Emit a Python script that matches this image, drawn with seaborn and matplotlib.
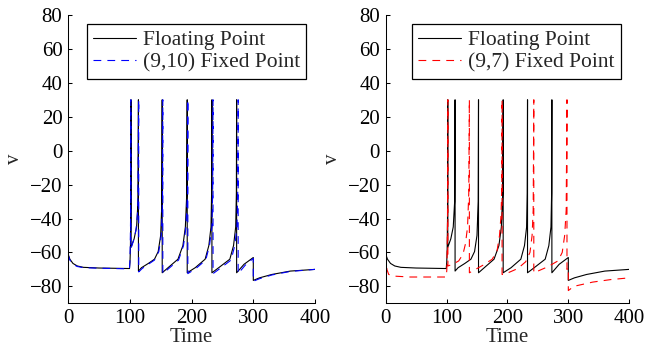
import matplotlib
matplotlib.use("Agg")
import matplotlib.pyplot as plt
import seaborn as sns

# Membrane potential traces
t_float = [0, 3, 8, 15, 25, 50, 99.5, 100.3, 101, 101.6, 102, 102, 107, 111, 113.3, 114, 114,
           119, 130, 140, 146, 150, 152, 152.5, 152.5, 162, 178, 186, 190, 192.3, 193, 193,
           206, 222, 228, 231.5, 232.5, 233, 233, 244, 262, 268, 271.5, 272.6, 273, 273,
           285, 300, 300, 310, 330, 360, 400]
v_float = [-61, -64, -66.5, -68, -68.8, -69.2, -69.5, -66, -58, -40, 30, -57, -52, -45, -30, 30, -71,
           -69, -66.5, -64, -59.5, -50, -30, 30, -72, -69, -64, -56, -45, -25, 30, -72,
           -69, -64, -56, -45, -25, 30, -72, -69, -64, -56, -45, -25, 30, -72,
           -67, -63, -76.5, -75, -73, -71, -70]

t_fix10 = [0, 3, 8, 15, 25, 50, 99.5, 100.2, 100.8, 101.3, 101.7, 101.7, 106, 110, 113, 114.5, 114.5,
           120, 130, 140, 147, 151, 153, 153.5, 153.5, 163, 179, 187, 191, 193.5, 194, 194,
           207, 223, 229, 233, 234.2, 234.8, 234.8, 246, 264, 270, 273.5, 274.8, 275.5, 275.5,
           287, 300, 300, 310, 330, 360, 400]
v_fix10 = [-61, -64.5, -67, -68.3, -69, -69.3, -69.7, -65, -55, -40, 30, -58, -53, -47, -35, 30, -71.5,
           -69.5, -67, -64.5, -59.5, -50, -30, 30, -72.5, -69.5, -64.5, -56, -45, -25, 30, -72.5,
           -69.5, -64.5, -56, -45, -25, 30, -72.5, -69.5, -64.5, -56, -45, -25, 30, -72.5,
           -67.5, -63.5, -77, -75.5, -73.3, -71.2, -70]

t_fix7 = [0, 2, 5, 15, 40, 99.5, 100.5, 101.2, 101.8, 102.2, 102.2, 110, 120, 127, 131, 134.5, 136.5,
          137.5, 137.5, 145, 160, 175, 183, 187, 189.5, 190.8, 191.2, 191.2, 198, 217, 230, 237,
          240.5, 242.3, 243.3, 243.3, 250, 266, 283, 290, 294, 296.5, 297.8, 297.8, 300, 300,
          309, 340, 370, 400]
v_fix7 = [-61, -70, -73, -74, -74.5, -74.5, -70, -55, -35, 30, -68, -67, -65, -61, -55, -45, -25,
          30, -72, -70.5, -67.5, -64, -59, -50, -38, -20, 30, -73, -72.5, -69.5, -65.5, -60,
          -50, -35, 30, -72, -71, -68.5, -65, -60, -50, -35, 30, -70, -69, -82.5,
          -80, -77.5, -76, -75]

x_ticks = [0, 100, 200, 300, 400]
y_ticks = [-80, -60, -40, -20, 0, 20, 40, 60, 80]

sns.set_theme(style="ticks")
plt.rcParams["font.family"] = ["Liberation Serif", "DejaVu Serif"]
plt.rcParams["font.size"] = 15
plt.rcParams["xtick.direction"] = "in"
plt.rcParams["ytick.direction"] = "in"
plt.rcParams["axes.edgecolor"] = "black"
plt.rcParams["axes.linewidth"] = 0.75

fig = plt.figure(figsize=(6.46, 3.51), dpi=100)
ax1 = fig.add_axes([0.1053, 0.1359, 0.3824, 0.8214])
ax2 = fig.add_axes([0.597, 0.1359, 0.377, 0.8214])

dash = (0, (7, 5.5))

sns.lineplot(x=t_float, y=v_float, ax=ax1, color="black", lw=0.8, sort=False,
             estimator=None, label="Floating Point")
sns.lineplot(x=t_fix10, y=v_fix10, ax=ax1, color="blue", lw=0.8, sort=False,
             estimator=None, linestyle=dash, label="(9,10) Fixed Point")

sns.lineplot(x=t_float, y=v_float, ax=ax2, color="black", lw=0.8, sort=False,
             estimator=None, label="Floating Point")
sns.lineplot(x=t_fix7, y=v_fix7, ax=ax2, color="red", lw=0.8, sort=False,
             estimator=None, linestyle=dash, label="(9,7) Fixed Point")

for ax in (ax1, ax2):
    ax.set_xlim(0, 400)
    ax.set_ylim(-90, 80)
    ax.set_xticks(x_ticks)
    ax.set_yticks(y_ticks)
    ax.tick_params(length=3, width=0.75, colors="black", labelsize=15, pad=4)
    ax.set_xlabel("Time", fontsize=15, labelpad=0)
    ax.set_ylabel("v", fontsize=15, labelpad=4)
    sns.despine(ax=ax)
    leg = ax.legend(loc="upper right", fontsize=15.5, frameon=True, fancybox=False,
                    framealpha=1, edgecolor="black", borderaxespad=0.4,
                    handlelength=2.0, handletextpad=0.3, labelspacing=0.1,
                    borderpad=0.3)
    leg.get_frame().set_linewidth(0.9)

fig.savefig("out.png", dpi=100)
